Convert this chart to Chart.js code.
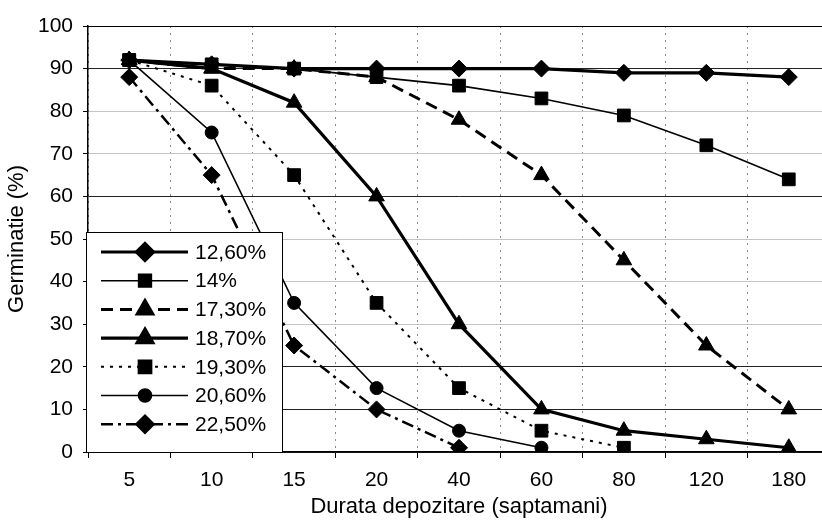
<!DOCTYPE html>
<html>
<head>
<meta charset="utf-8">
<script src="https://cdn.jsdelivr.net/npm/chart.js@4/dist/chart.umd.min.js"></script>
<style>
  html, body { margin: 0; padding: 0; background: #fff; overflow: hidden; }
  #wrap { position: relative; width: 840px; height: 526px; }
</style>
</head>
<body>
<div id="wrap"><canvas id="chart-germ"></canvas></div>
<script>
// storage duration (weeks) on the category axis
const durations = ['5', '10', '15', '20', '40', '60', '80', '120', '180'];

// germination (%) for each seed moisture content
const germ1260 = [92, 91, 90, 90, 90, 90, 89, 89, 88];
const germ14   = [92, 91, 90, 88, 86, 83, 79, 72, 64];
const germ1730 = [92, 90, 90, 88, 78, 65, 45, 25, 10];
const germ1870 = [92, 90, 82, 60, 30, 10, 5, 3, 1];
const germ1930 = [92, 86, 65, 35, 15, 5, 1, null, null];
const germ2060 = [92, 75, 35, 15, 5, 1, null, null, null];
const germ2250 = [88, 65, 25, 10, 1, null, null, null, null];

const yTicks = [0, 10, 20, 30, 40, 50, 60, 70, 80, 90, 100];

const FONT = "'Liberation Sans', Arial, sans-serif";

function series(label, data, width, dash, shape, radius) {
    return {
        label: label,
        data: data,
        borderColor: '#000',
        backgroundColor: '#000',
        borderWidth: width,
        borderDash: dash,
        pointStyle: shape,
        pointRadius: radius,
        pointBackgroundColor: '#000',
        pointBorderColor: '#000',
        pointBorderWidth: 1,
        tension: 0,
        spanGaps: false,
        fill: false
    };
}

const datasets = [
    series('12,60%', germ1260, 3.2, [], 'rectRot', 8.5),
    series('14%', germ14, 1.6, [], 'rect', 9),
    series('17,30%', germ1730, 3, [12, 7], 'triangle', 9),
    series('18,70%', germ1870, 3.2, [], 'triangle', 9),
    series('19,30%', germ1930, 2, [3, 6], 'rect', 9),
    series('20,60%', germ2060, 1.6, [], 'circle', 6.5),
    series('22,50%', germ2250, 2.5, [12, 5, 3, 5], 'rectRot', 8.5)
];

// boxed legend sitting in the lower-left corner of the plot
const boxLegend = {
    id: 'boxLegend',
    afterDatasetsDraw(chart) {
        const ctx = chart.ctx;
        const area = chart.chartArea;
        const x0 = area.left - 2, y0 = 232, w = 196, h = area.bottom - 232;
        ctx.save();
        ctx.fillStyle = '#fff';
        ctx.fillRect(x0, y0, w, h);
        ctx.strokeStyle = '#000';
        ctx.lineWidth = 1;
        ctx.strokeRect(x0 + 0.5, y0 + 0.5, w, h);
        chart.data.datasets.forEach((ds, i) => {
            const cy = y0 + 20 + i * 28.7;
            ctx.beginPath();
            ctx.setLineDash(ds.borderDash);
            ctx.lineWidth = ds.borderWidth;
            ctx.strokeStyle = '#000';
            ctx.moveTo(x0 + 15, cy);
            ctx.lineTo(x0 + 102, cy);
            ctx.stroke();
            ctx.setLineDash([]);
            ctx.fillStyle = '#000';
            Chart.helpers.drawPoint(ctx, {
                pointStyle: ds.pointStyle,
                radius: ds.pointRadius,
                borderWidth: 1,
                rotation: 0
            }, x0 + 59, cy);
            ctx.fillStyle = '#000';
            ctx.font = '21px ' + FONT;
            ctx.textBaseline = 'middle';
            ctx.textAlign = 'left';
            ctx.fillText(ds.label, x0 + 109, cy + 1);
        });
        ctx.restore();
    }
};

// top edge of the plot frame
const plotFrame = {
    id: 'plotFrame',
    afterDraw(chart) {
        const a = chart.chartArea;
        const ctx = chart.ctx;
        ctx.save();
        ctx.strokeStyle = '#000';
        ctx.lineWidth = 1;
        ctx.beginPath();
        ctx.moveTo(a.left, a.top + 0.5);
        ctx.lineTo(a.right, a.top + 0.5);
        ctx.stroke();
        ctx.restore();
    }
};

new Chart(document.getElementById('chart-germ'), {
    type: 'line',
    data: { labels: durations, datasets: datasets },
    plugins: [boxLegend, plotFrame],
    options: {
        responsive: true,
        maintainAspectRatio: false,
        animation: false,
        layout: { padding: { top: 26, right: 9, left: 0, bottom: 0 } },
        plugins: {
            legend: { display: false },
            tooltip: { enabled: false }
        },
        scales: {
            x: {
                type: 'category',
                offset: true,
                afterFit(scale) { scale.height = 74; },
                grid: {
                    offset: true,
                    color: '#8a8a8a',
                    lineWidth: 1,
                    drawTicks: true,
                    tickLength: 6,
                    tickColor: '#000'
                },
                border: { color: '#000', width: 1.5, dash: [2, 5] },
                ticks: {
                    color: '#000',
                    font: { family: FONT, size: 21 },
                    padding: 10,
                    maxRotation: 0
                },
                title: {
                    display: true,
                    text: 'Durata depozitare (saptamani)',
                    color: '#000',
                    font: { family: FONT, size: 22 },
                    padding: { top: 0, bottom: 6 }
                }
            },
            y: {
                min: 0,
                max: 100,
                afterFit(scale) { scale.width = 88; },
                afterBuildTicks(scale) {
                    scale.ticks = yTicks.map(v => ({ value: v }));
                },
                grid: {
                    color: ctx => ([30, 40, 50, 70, 80].includes(ctx.tick && ctx.tick.value) ? '#c4c4c4' : '#222'),
                    lineWidth: 1,
                    tickLength: 5,
                    tickColor: '#000'
                },
                border: { color: '#000', width: 1.5 },
                ticks: {
                    color: '#000',
                    font: { family: FONT, size: 21 },
                    padding: 10
                },
                title: {
                    display: true,
                    text: 'Germinatie (%)',
                    color: '#000',
                    font: { family: FONT, size: 22 },
                    padding: { top: 4, bottom: 4 }
                }
            }
        }
    }
});
</script>
</body>
</html>
